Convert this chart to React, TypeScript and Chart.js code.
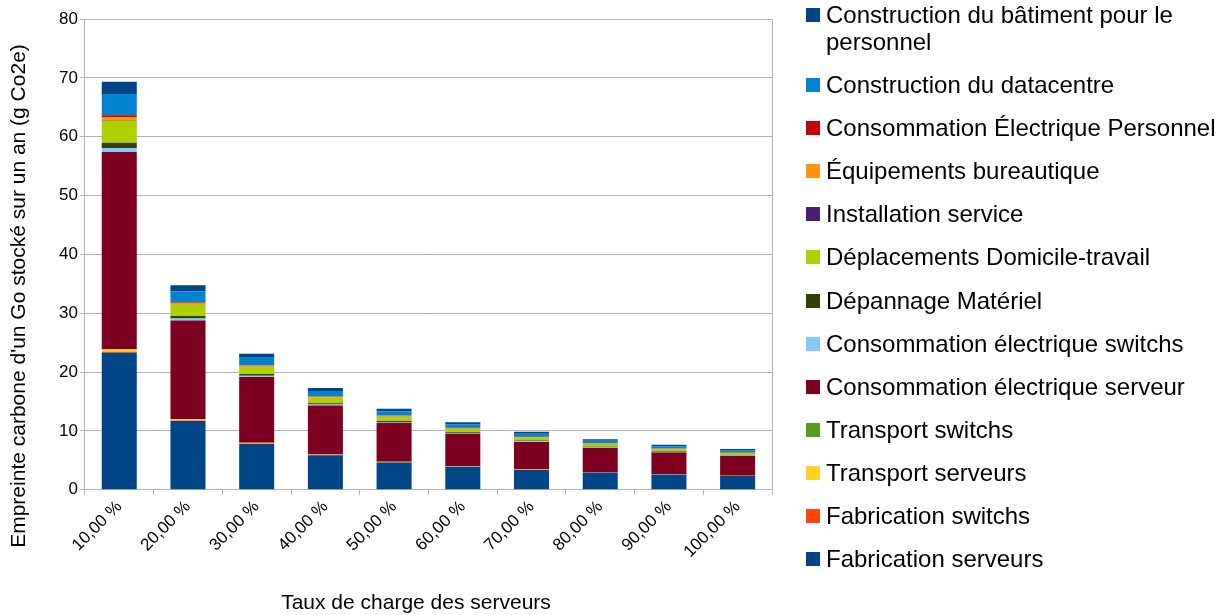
import React, { useEffect, useRef } from 'react';
import { Chart, registerables } from 'chart.js';

Chart.register(...registerables);

const categories = ['10,00 %', '20,00 %', '30,00 %', '40,00 %', '50,00 %', '60,00 %', '70,00 %', '80,00 %', '90,00 %', '100,00 %'];

const fabricationServeurs = [23.3, 11.7, 7.8, 5.85, 4.65, 3.9, 3.35, 2.92, 2.6, 2.33];
const fabricationSwitchs = [0.15, 0.08, 0.05, 0.04, 0.03, 0.025, 0.02, 0.02, 0.017, 0.015];
const transportServeurs = [0.4, 0.2, 0.13, 0.1, 0.08, 0.067, 0.057, 0.05, 0.044, 0.04];
const transportSwitchs = [0.05, 0.025, 0.017, 0.013, 0.01, 0.008, 0.007, 0.006, 0.006, 0.005];
const consoElecServeur = [33.5, 16.75, 11.15, 8.3, 6.6, 5.5, 4.7, 4.1, 3.65, 3.35];
const consoElecSwitchs = [0.7, 0.35, 0.23, 0.18, 0.14, 0.12, 0.1, 0.09, 0.08, 0.07];
const depannageMateriel = [0.85, 0.43, 0.28, 0.21, 0.17, 0.14, 0.12, 0.11, 0.09, 0.085];
const deplacements = [3.75, 1.9, 1.25, 0.94, 0.75, 0.62, 0.54, 0.47, 0.42, 0.375];
const installationService = [0.1, 0.05, 0.033, 0.025, 0.02, 0.017, 0.014, 0.013, 0.011, 0.01];
const equipementsBureautique = [0.55, 0.28, 0.18, 0.14, 0.11, 0.09, 0.08, 0.07, 0.06, 0.055];
const consoElecPersonnel = [0.3, 0.15, 0.1, 0.075, 0.06, 0.05, 0.043, 0.038, 0.033, 0.03];
const constructionDatacentre = [3.6, 1.8, 1.2, 0.9, 0.72, 0.6, 0.51, 0.45, 0.4, 0.36];
const constructionBatiment = [2.1, 1.05, 0.7, 0.52, 0.42, 0.35, 0.3, 0.26, 0.23, 0.21];

const seriesNames = [
  'Fabrication serveurs',
  'Fabrication switchs',
  'Transport serveurs',
  'Transport switchs',
  'Consommation électrique serveur',
  'Consommation électrique switchs',
  'Dépannage Matériel',
  'Déplacements Domicile-travail',
  'Installation service',
  'Équipements bureautique',
  'Consommation Électrique Personnel',
  'Construction du datacentre',
  'Construction du bâtiment pour le personnel',
];

const seriesValues = [
  fabricationServeurs,
  fabricationSwitchs,
  transportServeurs,
  transportSwitchs,
  consoElecServeur,
  consoElecSwitchs,
  depannageMateriel,
  deplacements,
  installationService,
  equipementsBureautique,
  consoElecPersonnel,
  constructionDatacentre,
  constructionBatiment,
];

const seriesColors = [
  '#004586', '#ff420e', '#ffd320', '#579d1c', '#7e0021', '#83caff', '#314004',
  '#aecf00', '#4b1f6f', '#ff950e', '#c5000b', '#0084d1', '#004586',
];

const yTitle = "Empreinte carbone d'un Go stocké sur un an (g Co2e)";
const xTitle = 'Taux de charge des serveurs';

const FONT = "'Liberation Sans', Arial, sans-serif";

export default function App() {
  const canvasRef = useRef<HTMLCanvasElement | null>(null);

  useEffect(() => {
    document.body.style.margin = '0';
    const canvas = canvasRef.current;
    if (!canvas) return;

    const framePlugin = {
      id: 'frameAndTitles',
      beforeDatasetsDraw(chart: any) {
        const { ctx, chartArea } = chart;
        ctx.save();
        ctx.strokeStyle = '#b3b3b3';
        ctx.lineWidth = 1;
        ctx.beginPath();
        ctx.moveTo(chartArea.left, chartArea.top + 0.5);
        ctx.lineTo(chartArea.right + 0.5, chartArea.top + 0.5);
        ctx.lineTo(chartArea.right + 0.5, chartArea.bottom);
        ctx.stroke();
        ctx.restore();
      },
      afterDraw(chart: any) {
        const { ctx } = chart;
        ctx.save();
        ctx.fillStyle = '#000';
        ctx.font = `21px ${FONT}`;
        ctx.textAlign = 'center';
        ctx.textBaseline = 'middle';
        ctx.fillText(xTitle, 416, 603);
        ctx.translate(19, 296);
        ctx.rotate(-Math.PI / 2);
        ctx.fillText(yTitle, 0, 0);
        ctx.restore();
      },
    };

    const chart = new Chart(canvas, {
      type: 'bar',
      data: {
        labels: categories,
        datasets: seriesNames.map((name, i) => ({
          label: name,
          data: seriesValues[i],
          backgroundColor: seriesColors[i],
          borderWidth: 0,
          barPercentage: 0.51,
          categoryPercentage: 1,
        })),
      },
      options: {
        responsive: false,
        animation: false,
        layout: { padding: { left: 57, right: 454, top: 19, bottom: 51 } },
        plugins: {
          legend: { display: false },
          tooltip: { enabled: false },
        },
        scales: {
          x: {
            stacked: true,
            grid: {
              display: true,
              drawOnChartArea: false,
              drawTicks: true,
              tickLength: 5,
              color: '#b3b3b3',
              offset: true,
            },
            border: { color: '#b3b3b3' },
            ticks: {
              color: '#000',
              font: { family: FONT, size: 17 },
              minRotation: 45,
              maxRotation: 45,
              padding: 2,
              autoSkip: false,
            },
          },
          y: {
            stacked: true,
            min: 0,
            max: 80,
            ticks: {
              stepSize: 10,
              color: '#000',
              font: { family: FONT, size: 17 },
              padding: 2,
            },
            grid: {
              color: '#b3b3b3',
              tickLength: 5,
            },
            border: { color: '#b3b3b3' },
          },
        },
      },
      plugins: [framePlugin],
    });

    return () => chart.destroy();
  }, []);

  const legendOrder = seriesNames.map((_, i) => i).reverse();

  return (
    <div style={{ position: 'relative', width: 1226, height: 615, overflow: 'hidden' }}>
      <canvas ref={canvasRef} width={1226} height={615} style={{ position: 'absolute', left: 0, top: 0 }} />
      <div
        style={{
          position: 'absolute',
          left: 806,
          top: 1,
          width: 420,
          fontFamily: FONT,
          fontSize: 24,
          lineHeight: '27px',
          color: '#000',
        }}
      >
        {legendOrder.map((i) => (
          <div key={i} style={{ display: 'flex', alignItems: 'flex-start', marginBottom: 16.1 }}>
            <span
              style={{
                display: 'inline-block',
                width: 14,
                height: 14,
                marginTop: 7,
                marginRight: 6,
                flex: '0 0 auto',
                background: seriesColors[i],
              }}
            />
            <span style={{ width: 400 }}>{seriesNames[i]}</span>
          </div>
        ))}
      </div>
    </div>
  );
}
